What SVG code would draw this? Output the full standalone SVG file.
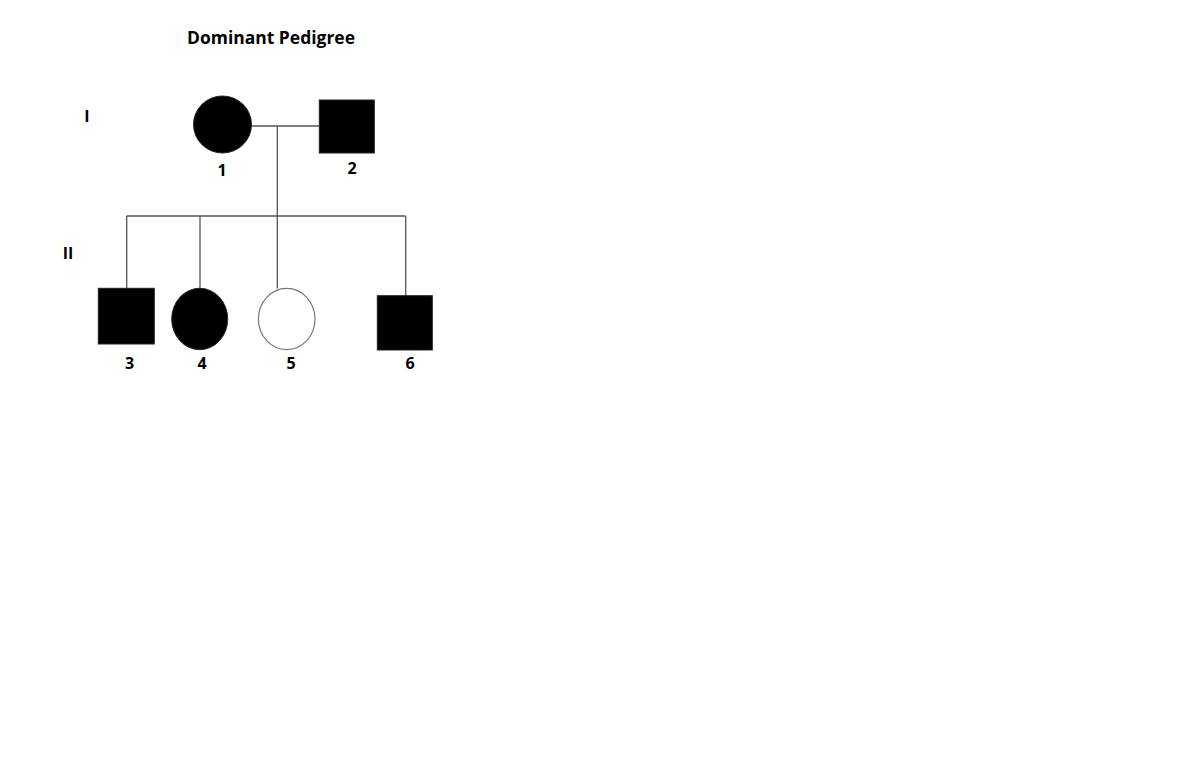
<svg xmlns="http://www.w3.org/2000/svg" width="1200" height="769" viewBox="0 0 1200 769">
<style>
text{font-family:"Open Sans","Liberation Sans",sans-serif;font-weight:bold;fill:#000}
.lbl{font-size:16px;text-anchor:middle}
.ln{stroke:#555;stroke-width:1.3;fill:none}
.aff{fill:#000;stroke:#222;stroke-width:1}
.un{fill:#fff;stroke:#777;stroke-width:1.2}
</style>
<rect width="1200" height="769" fill="#fff"/>
<text x="271" y="43.5" font-size="17" text-anchor="middle" textLength="168" lengthAdjust="spacingAndGlyphs">Dominant Pedigree</text>
<text x="87" y="121.5" font-size="16" text-anchor="middle">I</text>
<text x="68" y="258.5" font-size="16" text-anchor="middle">II</text>
<g id="connectors">
<line class="ln" x1="251.5" y1="126" x2="319" y2="126"/>
<line class="ln" x1="277.3" y1="126" x2="277.3" y2="288.5"/>
<line class="ln" x1="126.7" y1="216" x2="405.7" y2="216"/>
<line class="ln" x1="126.7" y1="216" x2="126.7" y2="288"/>
<line class="ln" x1="200" y1="216" x2="200" y2="288" stroke="#999"/>
<line class="ln" x1="405.7" y1="216" x2="405.7" y2="296"/>
</g>
<g id="n1"><ellipse class="aff" cx="222.5" cy="124.5" rx="29" ry="28.5"/><text class="lbl" x="222" y="176">1</text></g>
<g id="n2"><rect class="aff" x="319.3" y="100" width="55" height="53"/><text class="lbl" x="352" y="173.5">2</text></g>
<g id="n3"><rect class="aff" x="98.3" y="288.3" width="56" height="55.7"/><text class="lbl" x="129.5" y="368.5">3</text></g>
<g id="n4"><ellipse class="aff" cx="199.7" cy="319" rx="28" ry="30.7"/><text class="lbl" x="202" y="368.5">4</text></g>
<g id="n5"><ellipse class="un" cx="286.7" cy="319" rx="28.3" ry="30.7"/><text class="lbl" x="291" y="368.5">5</text></g>
<g id="n6"><rect class="aff" x="377.3" y="295.7" width="55" height="54.3"/><text class="lbl" x="410" y="368.5">6</text></g>
</svg>
